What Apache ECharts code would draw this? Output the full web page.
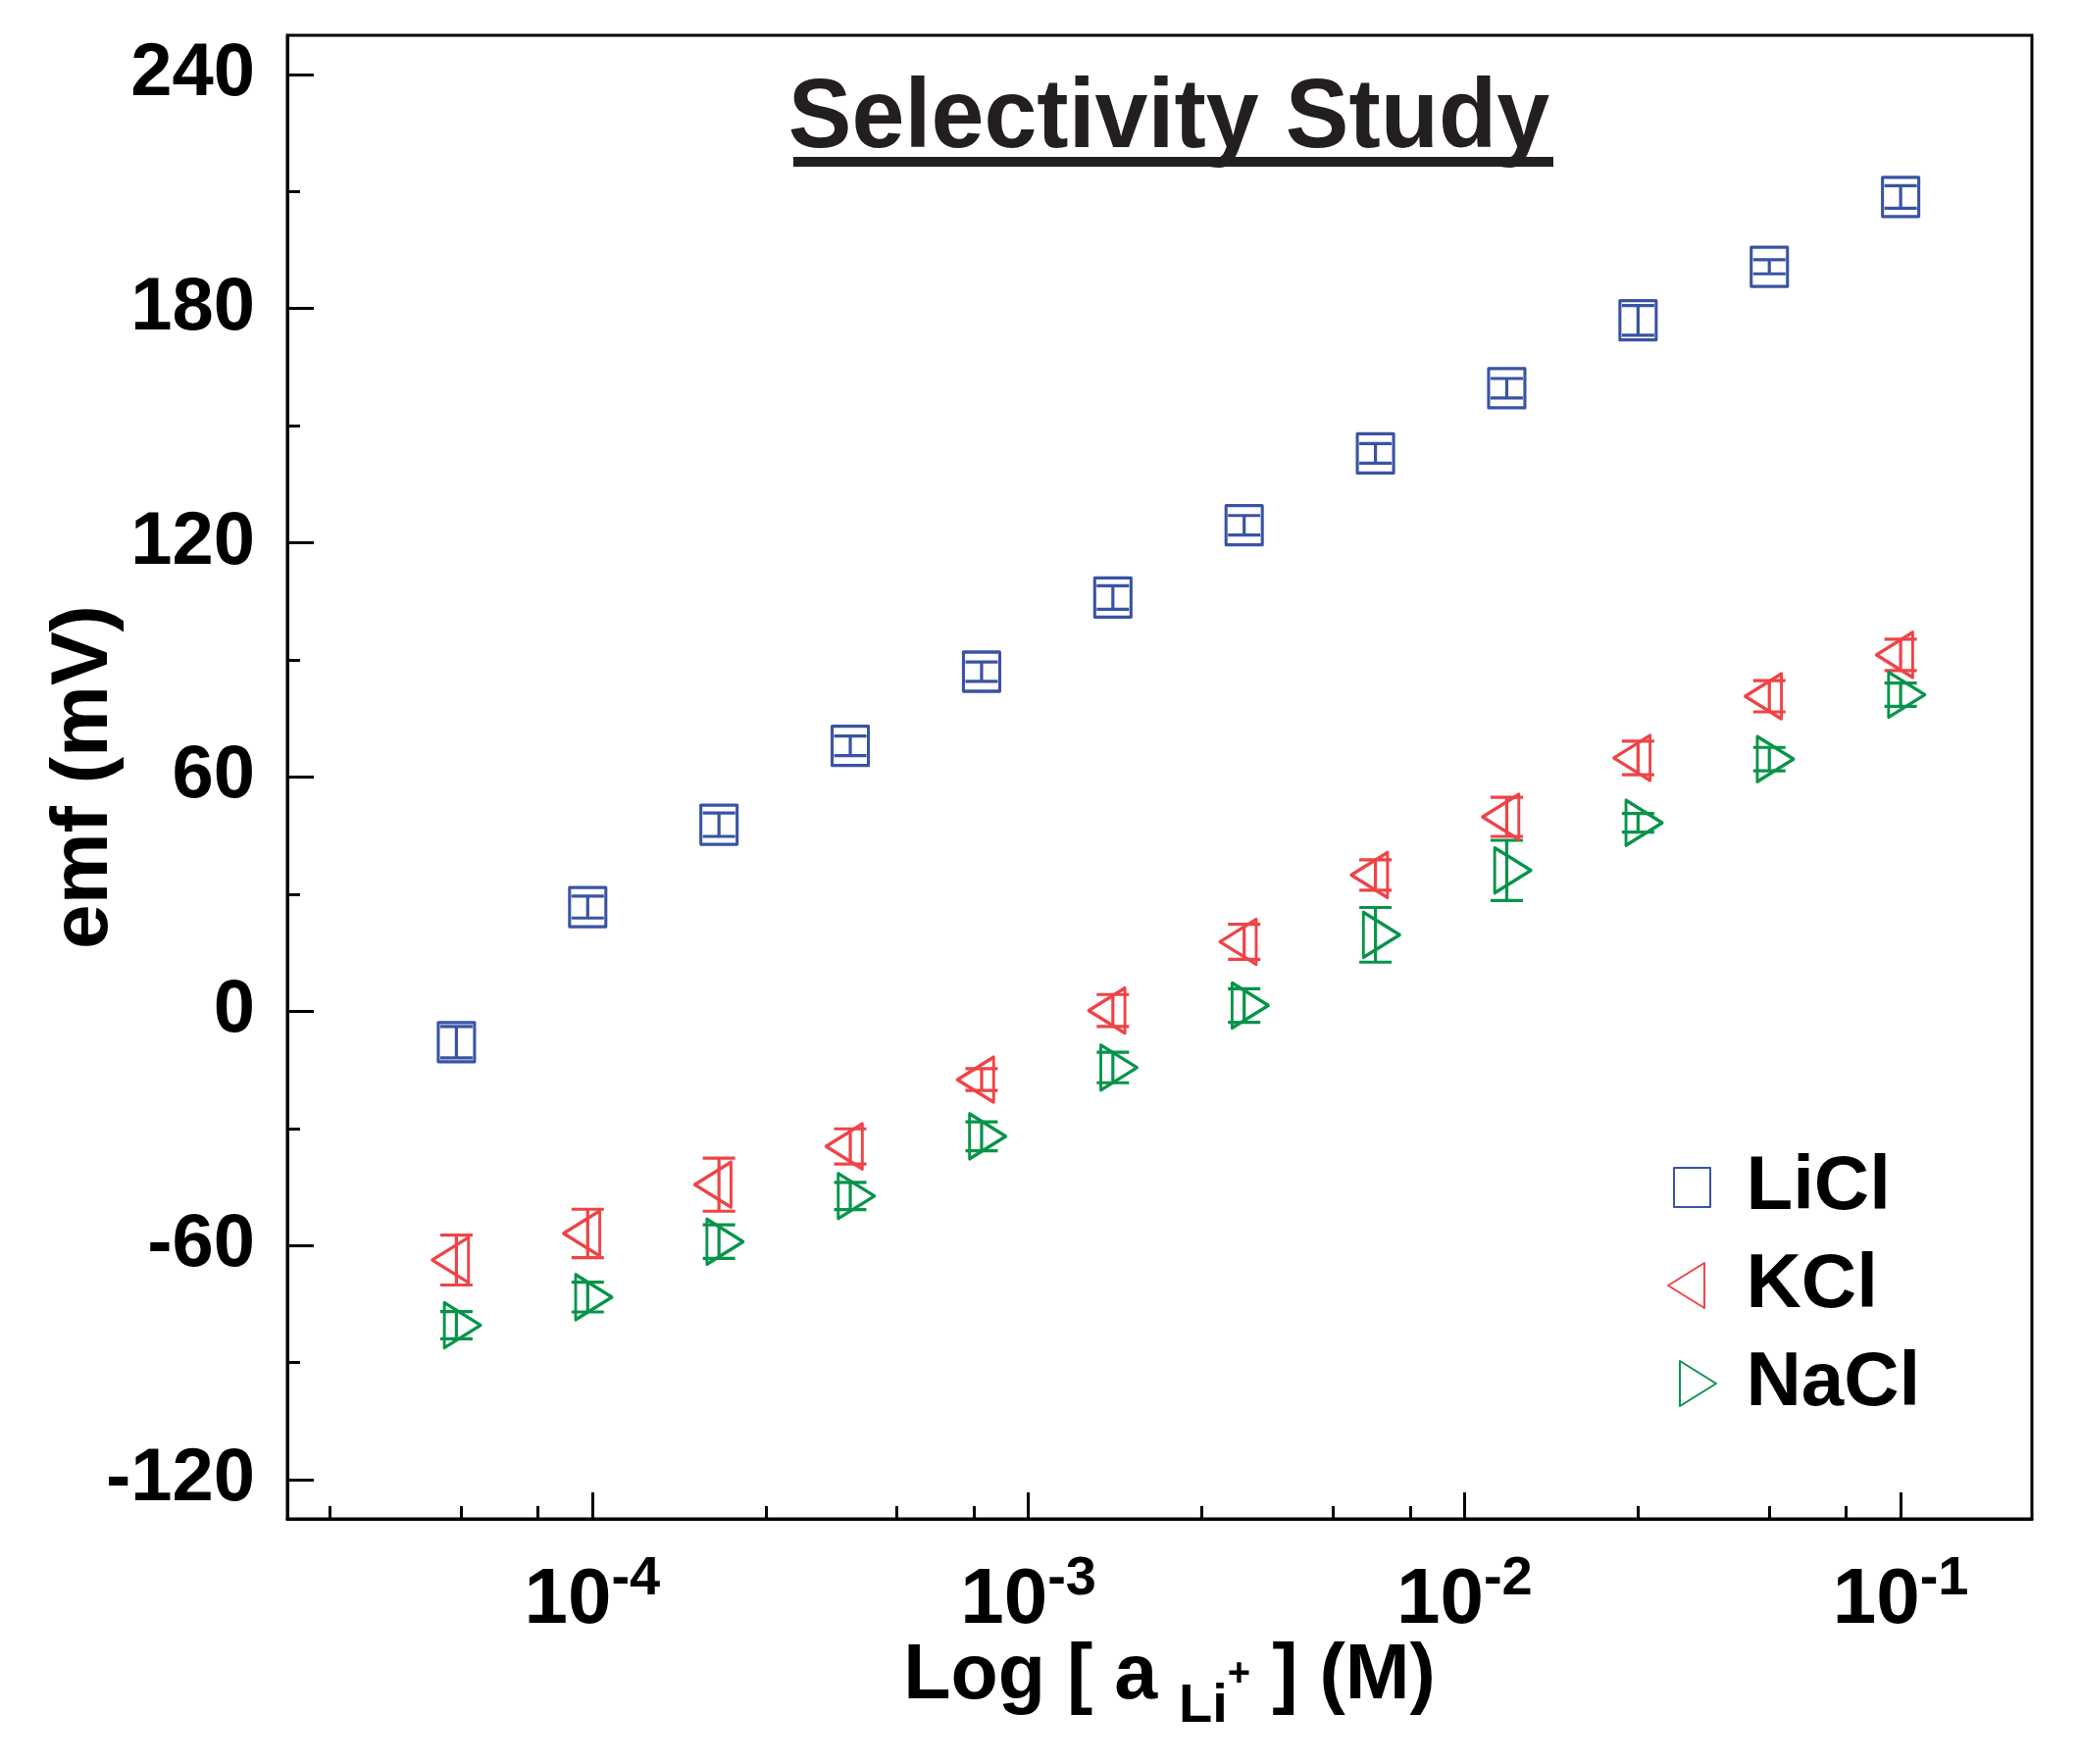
<!DOCTYPE html>
<html><head><meta charset="utf-8">
<script src="https://cdn.jsdelivr.net/npm/echarts@6/dist/echarts.min.js"></script>
<style>html,body{margin:0;padding:0;background:#fff}#c{width:2120px;height:1799px}</style>
</head><body><div id="c"></div>
<script>
// ---- data ----
const concentrations = [4.883e-5, 9.766e-5, 1.953e-4, 3.906e-4, 7.813e-4, 1.5625e-3, 3.125e-3, 6.25e-3, 1.25e-2, 2.5e-2, 5e-2, 1e-1];
const seriesNames = ['LiCl', 'KCl', 'NaCl'];
const liclEmf = [-7.9, 26.7, 47.8, 68.0, 87.0, 106.0, 124.5, 142.9, 159.6, 177.0, 190.7, 208.6];
const liclErr = [4.0, 2.8, 3.0, 2.5, 2.5, 3.0, 2.5, 2.5, 2.5, 3.8, 1.8, 2.9];
const kclEmf = [-63.7, -56.9, -44.4, -34.6, -17.5, 0.2, 17.8, 34.9, 49.8, 64.9, 80.7, 91.3];
const kclErr = [6.4, 6.2, 6.8, 4.5, 2.8, 4.1, 4.5, 3.9, 5.0, 4.3, 4.0, 4.0];
const naclEmf = [-80.4, -73.2, -59.0, -47.3, -32.0, -14.4, 1.5, 19.6, 36.1, 48.3, 64.6, 81.1];
const naclErr = [3.5, 3.8, 4.3, 3.5, 3.7, 3.9, 4.3, 7.0, 7.7, 2.4, 3.0, 3.0];
const yMajorTicks = [-120, -60, 0, 60, 120, 180, 240];
const yMinorTicks = [-90, -30, 30, 90, 150, 210];
const xMajorTicks = [1e-4, 1e-3, 1e-2, 1e-1];
const xTickExponents = ['-4', '-3', '-2', '-1'];
const xMinorTicks = [2.5e-5, 5e-5, 7.5e-5, 2.5e-4, 5e-4, 7.5e-4, 2.5e-3, 5e-3, 7.5e-3, 2.5e-2, 5e-2, 7.5e-2];
const titleText = 'Selectivity Study';
const xAxisTitle = ['Log [ a ', 'Li', '+', ' ] (M)'];
const yAxisTitle = 'emf (mV)';

// ---- styling ----
const FONT = "'Liberation Sans', Arial, Helvetica, sans-serif";
const COLORS = ['#3953a4', '#ef4346', '#07944a'];
const gridRect = {left: 293, right: 48, top: 36, bottom: 250};

function rows(ys, es) { return concentrations.map((c, i) => [c, ys[i], es[i]]); }

function errRenderer(color) {
  return function (params, api) {
    const x = api.value(0), y = api.value(1), e = api.value(2);
    const p1 = api.coord([x, y + e]), p2 = api.coord([x, y - e]);
    const hw = 16.5;
    const st = {stroke: color, lineWidth: 3.2, fill: null};
    return {type: 'group', children: [
      {type: 'line', shape: {x1: p1[0], y1: p1[1], x2: p2[0], y2: p2[1]}, style: st},
      {type: 'line', shape: {x1: p1[0] - hw, y1: p1[1], x2: p1[0] + hw, y2: p1[1]}, style: st},
      {type: 'line', shape: {x1: p2[0] - hw, y1: p2[1], x2: p2[0] + hw, y2: p2[1]}, style: st}
    ]};
  };
}

const symbols = {
  LiCl: {symbol: 'rect', size: [37, 40], offset: [0, 0],
         legendIcon: 'path://M0,0 L37,0 L37,40 L0,40 Z M0,-3 M0,43'},
  KCl: {symbol: 'path://M37,0 L37,46 L0,23 Z', size: [37, 46], offset: [-6.2, 0],
        legendIcon: 'path://M37,0 L37,46 L0,23 Z M49,23'},
  NaCl: {symbol: 'path://M0,0 L37,23 L0,46 Z', size: [37, 46], offset: [6.2, 0],
         legendIcon: 'path://M12,0 L49,23 L12,46 Z M0,23'}
};

const emfs = {LiCl: [liclEmf, liclErr], KCl: [kclEmf, kclErr], NaCl: [naclEmf, naclErr]};

const series = [];
seriesNames.forEach((n, k) => {
  const [ys, es] = emfs[n];
  series.push({
    name: n + ' error', type: 'custom', xAxisIndex: 0, yAxisIndex: 0, z: 2,
    renderItem: errRenderer(COLORS[k]), encode: {x: 0, y: 1},
    data: rows(ys, es), silent: true
  });
});
seriesNames.forEach((n, k) => {
  const [ys, es] = emfs[n];
  series.push({
    name: n, type: 'scatter', xAxisIndex: 0, yAxisIndex: 0, z: 3,
    symbol: symbols[n].symbol, symbolSize: symbols[n].size, symbolOffset: symbols[n].offset,
    itemStyle: {color: 'rgba(0,0,0,0)', borderColor: COLORS[k], borderWidth: 3.2, borderJoin: 'round', opacity: 1},
    data: concentrations.map((c, i) => [c, ys[i]])
  });
});

const axisBlack = {color: '#000', width: 3};

const option = {
  animation: false,
  backgroundColor: '#fff',
  grid: [
    Object.assign({show: true, borderColor: '#000', borderWidth: 3, backgroundColor: 'rgba(0,0,0,0)'}, gridRect),
    Object.assign({show: false}, gridRect)
  ],
  xAxis: [
    {
      type: 'log', logBase: 10, min: 2e-5, max: 0.2, gridIndex: 0, position: 'bottom',
      axisLine: {show: true, onZero: false, lineStyle: axisBlack},
      axisTick: {show: true, inside: true, length: 27, lineStyle: axisBlack, customValues: xMajorTicks},
      minorTick: {show: false}, splitLine: {show: false},
      axisLabel: {
        show: true, customValues: xMajorTicks, margin: 34,
        formatter: function (v) {
          const i = xMajorTicks.findIndex(t => Math.abs(Math.log10(t) - Math.log10(v)) < 1e-6);
          return '{b|10}{s|' + xTickExponents[i] + '}';
        },
        rich: {
          b: {fontSize: 80, fontWeight: 'bold', fontFamily: FONT, color: '#000', lineHeight: 90, verticalAlign: 'bottom'},
          s: {fontSize: 56, fontWeight: 'bold', fontFamily: FONT, color: '#000', lineHeight: 44, verticalAlign: 'top'}
        }
      },
      name: '{m|' + xAxisTitle[0] + '}{sub|' + xAxisTitle[1] + '}{sup|' + xAxisTitle[2] + '}{m|' + xAxisTitle[3] + '}',
      nameLocation: 'middle', nameGap: 122, nameMoveOverlap: false,
      nameTextStyle: {
        padding: [0, 0, 0, 20],
        rich: {
          m: {fontSize: 79, fontWeight: 'bold', fontFamily: FONT, color: '#000', verticalAlign: 'top'},
          sub: {fontSize: 56, fontWeight: 'bold', fontFamily: FONT, color: '#000', verticalAlign: 'top', padding: [42, 0, 0, 0]},
          sup: {fontSize: 40, fontWeight: 'bold', fontFamily: FONT, color: '#000', verticalAlign: 'top', padding: [17, 0, 0, 0]}
        }
      }
    },
    {
      type: 'log', logBase: 10, min: 2e-5, max: 0.2, gridIndex: 1, position: 'bottom',
      axisLine: {show: false, onZero: false},
      axisTick: {show: true, inside: true, length: 13, lineStyle: axisBlack, customValues: xMinorTicks},
      axisLabel: {show: false}, splitLine: {show: false}, minorTick: {show: false}
    }
  ],
  yAxis: [
    {
      type: 'value', min: -130, max: 250, gridIndex: 0, position: 'left',
      axisLine: {show: true, onZero: false, lineStyle: axisBlack},
      axisTick: {show: true, inside: true, length: 27, lineStyle: axisBlack, customValues: yMajorTicks},
      axisLabel: {show: true, customValues: yMajorTicks, margin: 33, fontSize: 76, fontWeight: 'bold', fontFamily: FONT, color: '#000'},
      splitLine: {show: false}, minorTick: {show: false},
      name: yAxisTitle, nameLocation: 'middle', nameGap: 166, nameMoveOverlap: false,
      nameTextStyle: {fontSize: 82, fontWeight: 'bold', fontFamily: FONT, color: '#000'}
    },
    {
      type: 'value', min: -130, max: 250, gridIndex: 1, position: 'left',
      axisLine: {show: false, onZero: false},
      axisTick: {show: true, inside: true, length: 13, lineStyle: axisBlack, customValues: yMinorTicks},
      axisLabel: {show: false}, splitLine: {show: false}, minorTick: {show: false}
    }
  ],
  legend: {
    orient: 'vertical', left: 1700, top: 1172, padding: 0,
    itemWidth: 100, itemHeight: 46, itemGap: 22, symbolKeepAspect: true,
    selectedMode: false,
    textStyle: {fontSize: 78, fontWeight: 'bold', fontFamily: FONT, color: '#000'},
    data: seriesNames.map(n => ({name: n, icon: symbols[n].legendIcon}))
  },
  graphic: [
    {type: 'text', x: 1192, y: 122, scaleX: 0.97, z: 10,
     style: {text: titleText, fontSize: 100, fontWeight: 'bold', fontFamily: FONT, fill: '#231f20', align: 'center', verticalAlign: 'middle'}},
    {type: 'rect', z: 10, shape: {x: 809, y: 160, width: 775, height: 10}, style: {fill: '#231f20'}}
  ],
  series: series
};

const chart = echarts.init(document.getElementById('c'), null, {renderer: 'canvas'});
chart.setOption(option);
</script>
</body></html>
